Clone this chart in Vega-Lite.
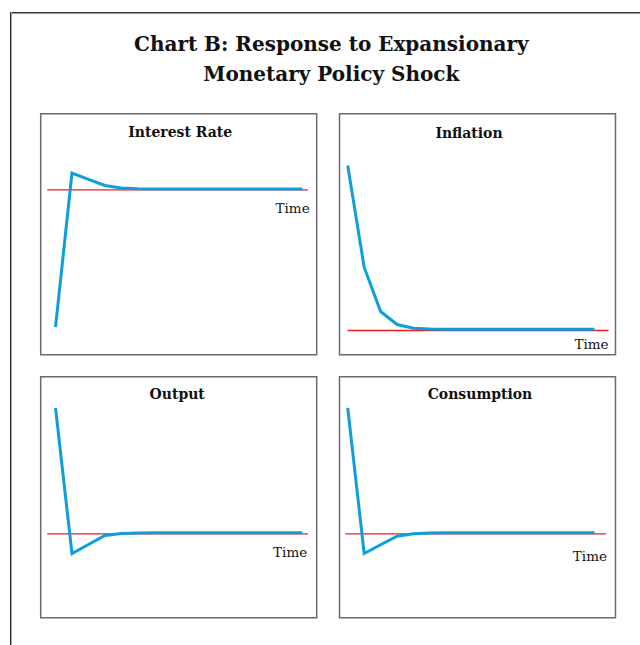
{
  "$schema": "https://vega.github.io/schema/vega-lite/v6.json",
  "padding": {"left": 9.7, "top": 11.8, "right": 0, "bottom": 0},
  "background": "white",
  "spacing": 0,
  "config": {
    "view": {"stroke": "#6b6b6b", "strokeWidth": 1.5},
    "title": {"font": "DejaVu Serif", "fontSize": 14, "fontWeight": "bold", "color": "#111111", "offset": -26.5, "baseline": "alphabetic", "anchor": "middle"}
  },
  "datasets": {
    "title": [
      {"line": 1, "text": "Chart B: Response to Expansionary"},
      {"line": 2, "text": "Monetary Policy Shock"}
    ],
    "interest": [
      {"t": 0, "v": -1.374}, {"t": 1, "v": 0.166}, {"t": 2, "v": 0.104}, {"t": 3, "v": 0.043},
      {"t": 4, "v": 0.017}, {"t": 5, "v": 0.01}, {"t": 6, "v": 0.008}, {"t": 7, "v": 0.008},
      {"t": 8, "v": 0.008}, {"t": 9, "v": 0.008}, {"t": 10, "v": 0.008}, {"t": 11, "v": 0.008},
      {"t": 12, "v": 0.008}, {"t": 13, "v": 0.008}, {"t": 14, "v": 0.008}, {"t": 15, "v": 0.008}
    ],
    "inflation": [
      {"t": 0, "v": 1.65}, {"t": 1, "v": 0.633}, {"t": 2, "v": 0.19}, {"t": 3, "v": 0.06},
      {"t": 4, "v": 0.023}, {"t": 5, "v": 0.014}, {"t": 6, "v": 0.012}, {"t": 7, "v": 0.012},
      {"t": 8, "v": 0.012}, {"t": 9, "v": 0.012}, {"t": 10, "v": 0.012}, {"t": 11, "v": 0.012},
      {"t": 12, "v": 0.012}, {"t": 13, "v": 0.012}, {"t": 14, "v": 0.012}, {"t": 15, "v": 0.012}
    ],
    "output": [
      {"t": 0, "v": 1.26}, {"t": 1, "v": -0.197}, {"t": 2, "v": -0.107}, {"t": 3, "v": -0.017},
      {"t": 4, "v": 0.003}, {"t": 5, "v": 0.009}, {"t": 6, "v": 0.011}, {"t": 7, "v": 0.011},
      {"t": 8, "v": 0.011}, {"t": 9, "v": 0.011}, {"t": 10, "v": 0.011}, {"t": 11, "v": 0.011},
      {"t": 12, "v": 0.011}, {"t": 13, "v": 0.011}, {"t": 14, "v": 0.011}, {"t": 15, "v": 0.011}
    ],
    "consumption": [
      {"t": 0, "v": 1.26}, {"t": 1, "v": -0.197}, {"t": 2, "v": -0.11}, {"t": 3, "v": -0.024},
      {"t": 4, "v": 0.0}, {"t": 5, "v": 0.008}, {"t": 6, "v": 0.011}, {"t": 7, "v": 0.011},
      {"t": 8, "v": 0.011}, {"t": 9, "v": 0.011}, {"t": 10, "v": 0.011}, {"t": 11, "v": 0.011},
      {"t": 12, "v": 0.011}, {"t": 13, "v": 0.011}, {"t": 14, "v": 0.011}, {"t": 15, "v": 0.011}
    ]
  },
  "hconcat": [
    {
      "width": 0.01, "height": 640,
      "view": {"stroke": "#333333", "strokeWidth": 1.5},
      "data": {"values": []},
      "mark": "point"
    },
    {
      "spacing": 0,
      "vconcat": [
        {
          "width": 631, "height": 0.01,
          "view": {"stroke": "#333333", "strokeWidth": 1.5},
          "data": {"values": []},
          "mark": "point"
        },
        {
          "width": 637.2, "height": 98.5,
          "view": {"stroke": null},
          "data": {"name": "title"},
          "mark": {"type": "text", "font": "DejaVu Serif", "fontSize": 20, "fontWeight": "bold", "baseline": "alphabetic", "align": "center", "color": "#111111"},
          "encoding": {
            "y": {"field": "line", "type": "quantitative", "scale": {"domain": [-0.256, 3.027], "reverse": true, "nice": false, "zero": false}, "axis": null},
            "text": {"field": "text"}
          }
        },
        {
          "spacing": 0,
          "hconcat": [
            {
              "width": 26.6, "height": 1,
              "view": {"stroke": null},
              "data": {"values": []},
              "mark": "point"
            },
            {
              "spacing": 20,
              "vconcat": [
                {
                  "spacing": 20.8,
                  "hconcat": [
                    {
                      "width": 276, "height": 241,
                      "title": {"text": "Interest Rate", "dx": 1.5},
                      "layer": [
                        {
                          "data": {"values": [{}]},
                          "mark": {"type": "rule", "color": "#ee1c25", "strokeWidth": 1.3},
                          "encoding": {
                            "x": {"datum": -0.5, "type": "quantitative", "scale": {"domain": [-0.9, 15.87], "nice": false, "zero": false}, "axis": null},
                            "x2": {"datum": 15.34},
                            "y": {"datum": 0, "type": "quantitative", "scale": {"domain": [-1.65, 0.76], "nice": false, "zero": false}, "axis": null}
                          }
                        },
                        {
                          "data": {"name": "interest"},
                          "mark": {"type": "line", "color": "#0e9fdb", "strokeWidth": 3},
                          "encoding": {
                            "x": {"field": "t", "type": "quantitative"},
                            "y": {"field": "v", "type": "quantitative"}
                          }
                        },
                        {
                          "data": {"values": [{}]},
                          "mark": {"type": "text", "font": "DejaVu Serif", "fontSize": 13.5, "align": "right", "baseline": "alphabetic", "color": "#111111"},
                          "encoding": {
                            "x": {"datum": 15.44, "type": "quantitative"},
                            "y": {"datum": -0.23, "type": "quantitative"},
                            "text": {"value": "Time"}
                          }
                        }
                      ]
                    },
                    {
                      "width": 276, "height": 241,
                      "title": {"text": "Inflation", "offset": -27.5, "dx": -8.5},
                      "layer": [
                        {
                          "data": {"values": [{}]},
                          "mark": {"type": "rule", "color": "#ee1c25", "strokeWidth": 1.3},
                          "encoding": {
                            "x": {"datum": -0.01, "type": "quantitative", "scale": {"domain": [-0.5, 16.28], "nice": false, "zero": false}, "axis": null},
                            "x2": {"datum": 15.86},
                            "y": {"datum": 0, "type": "quantitative", "scale": {"domain": [-0.243, 2.167], "nice": false, "zero": false}, "axis": null}
                          }
                        },
                        {
                          "data": {"name": "inflation"},
                          "mark": {"type": "line", "color": "#0e9fdb", "strokeWidth": 3},
                          "encoding": {
                            "x": {"field": "t", "type": "quantitative"},
                            "y": {"field": "v", "type": "quantitative"}
                          }
                        },
                        {
                          "data": {"values": [{}]},
                          "mark": {"type": "text", "font": "DejaVu Serif", "fontSize": 13.5, "align": "right", "baseline": "alphabetic", "color": "#111111"},
                          "encoding": {
                            "x": {"datum": 15.86, "type": "quantitative"},
                            "y": {"datum": -0.183, "type": "quantitative"},
                            "text": {"value": "Time"}
                          }
                        }
                      ]
                    }
                  ]
                },
                {
                  "spacing": 20.8,
                  "hconcat": [
                    {
                      "width": 276, "height": 241,
                      "title": {"text": "Output", "offset": -25.5, "dx": -1.5},
                      "layer": [
                        {
                          "data": {"values": [{}]},
                          "mark": {"type": "rule", "color": "#ee1c25", "strokeWidth": 1.3},
                          "encoding": {
                            "x": {"datum": -0.5, "type": "quantitative", "scale": {"domain": [-0.9, 15.87], "nice": false, "zero": false}, "axis": null},
                            "x2": {"datum": 15.34},
                            "y": {"datum": 0, "type": "quantitative", "scale": {"domain": [-0.84, 1.57], "nice": false, "zero": false}, "axis": null}
                          }
                        },
                        {
                          "data": {"name": "output"},
                          "mark": {"type": "line", "color": "#0e9fdb", "strokeWidth": 3},
                          "encoding": {
                            "x": {"field": "t", "type": "quantitative"},
                            "y": {"field": "v", "type": "quantitative"}
                          }
                        },
                        {
                          "data": {"values": [{}]},
                          "mark": {"type": "text", "font": "DejaVu Serif", "fontSize": 13.5, "align": "right", "baseline": "alphabetic", "color": "#111111"},
                          "encoding": {
                            "x": {"datum": 15.29, "type": "quantitative"},
                            "y": {"datum": -0.23, "type": "quantitative"},
                            "text": {"value": "Time"}
                          }
                        }
                      ]
                    },
                    {
                      "width": 276, "height": 241,
                      "title": {"text": "Consumption", "offset": -25.5, "dx": 2.5},
                      "layer": [
                        {
                          "data": {"values": [{}]},
                          "mark": {"type": "rule", "color": "#ee1c25", "strokeWidth": 1.3},
                          "encoding": {
                            "x": {"datum": -0.15, "type": "quantitative", "scale": {"domain": [-0.5, 16.28], "nice": false, "zero": false}, "axis": null},
                            "x2": {"datum": 15.7},
                            "y": {"datum": 0, "type": "quantitative", "scale": {"domain": [-0.84, 1.57], "nice": false, "zero": false}, "axis": null}
                          }
                        },
                        {
                          "data": {"name": "consumption"},
                          "mark": {"type": "line", "color": "#0e9fdb", "strokeWidth": 3},
                          "encoding": {
                            "x": {"field": "t", "type": "quantitative"},
                            "y": {"field": "v", "type": "quantitative"}
                          }
                        },
                        {
                          "data": {"values": [{}]},
                          "mark": {"type": "text", "font": "DejaVu Serif", "fontSize": 13.5, "align": "right", "baseline": "alphabetic", "color": "#111111"},
                          "encoding": {
                            "x": {"datum": 15.76, "type": "quantitative"},
                            "y": {"datum": -0.268, "type": "quantitative"},
                            "text": {"value": "Time"}
                          }
                        }
                      ]
                    }
                  ]
                }
              ]
            }
          ]
        }
      ]
    }
  ]
}
